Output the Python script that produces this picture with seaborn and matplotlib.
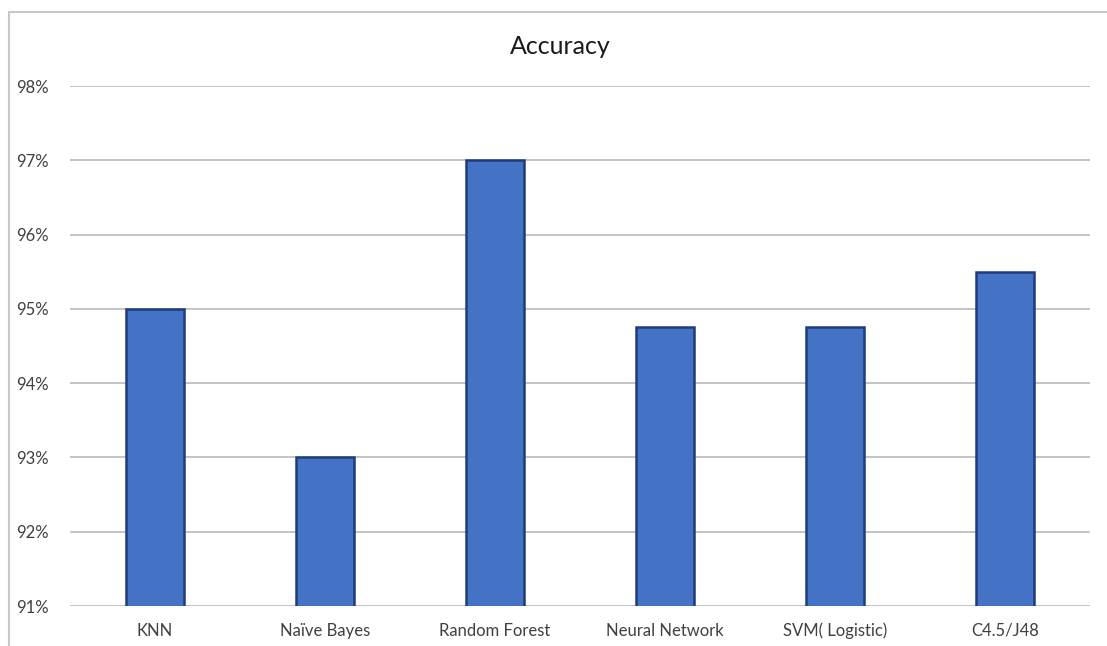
import matplotlib
matplotlib.use("Agg")
import matplotlib.pyplot as plt
import seaborn as sns
import pandas as pd
from matplotlib.patches import Rectangle
from matplotlib.ticker import FuncFormatter

categories = ["KNN", "Naïve Bayes", "Random Forest", "Neural Network", "SVM( Logistic)", "C4.5/J48"]
accuracy = [95.0, 93.0, 97.0, 94.75, 94.75, 95.5]
y_ticks = [91, 92, 93, 94, 95, 96, 97, 98]

sns.set_theme(style="white")
plt.rcParams['font.family'] = ['Lato', 'DejaVu Sans']

W, H = 1107, 646
fig = plt.figure(figsize=(W / 100, H / 100), dpi=100)
ax = fig.add_axes([70 / W, 1 - 606 / H, (1090 - 70) / W, (606 - 86) / H])

# chart frame
fig.patches.append(Rectangle((9 / W, -0.1), 1.2, (H - 12) / H + 0.1, transform=fig.transFigure,
                             fill=False, edgecolor="#C8C8C8", linewidth=1.5, zorder=0))

df = pd.DataFrame({"model": categories, "acc": accuracy})
sns.barplot(data=df, x="model", y="acc", ax=ax, width=0.34, color="#4472C4",
            edgecolor="#1F3C7A", linewidth=1.8, saturation=1, zorder=3)

ax.set_ylim(91, 98)
ax.set_xlim(-0.5, 5.5)
ax.set_yticks(y_ticks)
ax.yaxis.set_major_formatter(FuncFormatter(lambda v, p: f"{v:.0f}%"))
ax.grid(axis="y", color="#BFBFBF", linewidth=1.3, zorder=0)
ax.set_axisbelow(True)
for s in ax.spines.values():
    s.set_visible(False)
ax.tick_params(axis="both", length=0, labelsize=12, colors="#404040")
ax.tick_params(axis="y", pad=15)
ax.tick_params(axis="x", pad=12)
ax.set_xlabel("")
ax.set_ylabel("")
fig.text(560 / W, 1 - 46 / H, "Accuracy", ha="center", va="center", fontsize=18, color="#1A1A1A")

fig.savefig("out.png", dpi=100)
